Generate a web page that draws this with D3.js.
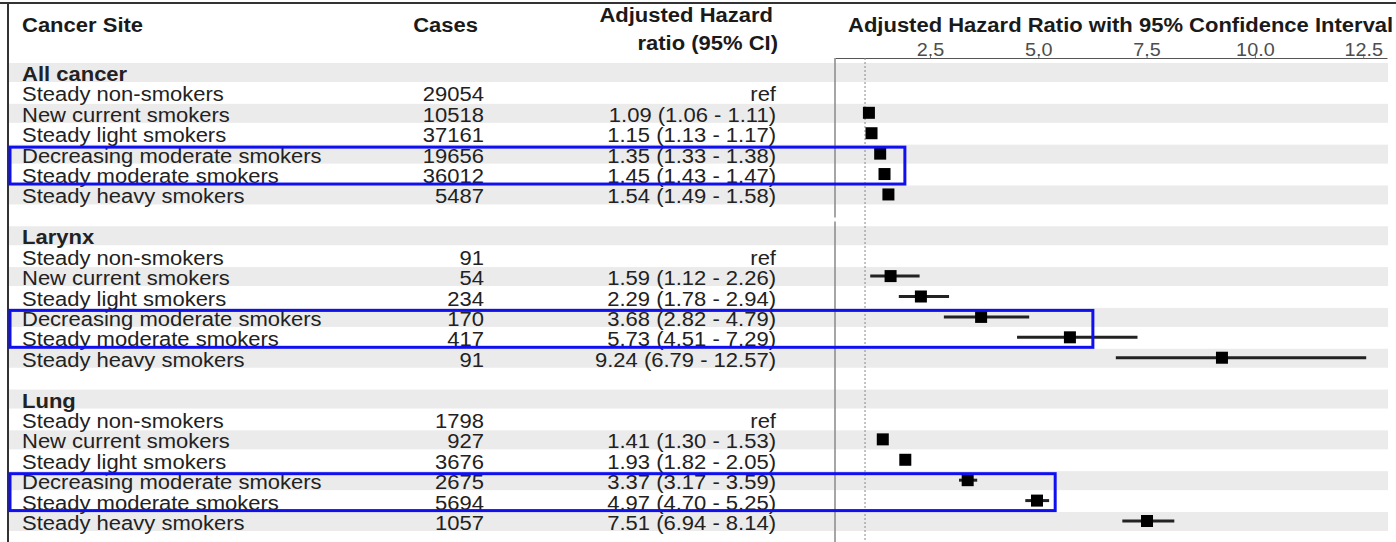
<!DOCTYPE html>
<html>
<head>
<meta charset="utf-8">
<script src="https://cdn.jsdelivr.net/npm/d3@7"></script>
<style>
  body { margin: 0; background: #fff; }
  svg { display: block; font-family: "Liberation Sans", Arial, sans-serif; }
</style>
</head>
<body>
<svg id="chart"></svg>
<script>
// Data
const groups = ["All cancer", "Larynx", "Lung"];
const categories = ["Steady non-smokers", "New current smokers", "Steady light smokers",
  "Decreasing moderate smokers", "Steady moderate smokers", "Steady heavy smokers"];

const allCancerCases = [29054, 10518, 37161, 19656, 36012, 5487];
const allCancerHR = [null, 1.09, 1.15, 1.35, 1.45, 1.54];
const allCancerLo = [null, 1.06, 1.13, 1.33, 1.43, 1.49];
const allCancerHi = [null, 1.11, 1.17, 1.38, 1.47, 1.58];

const larynxCases = [91, 54, 234, 170, 417, 91];
const larynxHR = [null, 1.59, 2.29, 3.68, 5.73, 9.24];
const larynxLo = [null, 1.12, 1.78, 2.82, 4.51, 6.79];
const larynxHi = [null, 2.26, 2.94, 4.79, 7.29, 12.57];

const lungCases = [1798, 927, 3676, 2675, 5694, 1057];
const lungHR = [null, 1.41, 1.93, 3.37, 4.97, 7.51];
const lungLo = [null, 1.30, 1.82, 3.17, 4.70, 6.94];
const lungHi = [null, 1.53, 2.05, 3.59, 5.25, 8.14];

const tickValues = [2.5, 5.0, 7.5, 10.0, 12.5];

// blue highlight boxes (rows 4-5 of each group, right edge in HR units)
const highlightRows = [3, 4];
const highlightXMax = [1.92, 6.26, 5.39];

const groupData = [
  {cases: allCancerCases, hr: allCancerHR, lo: allCancerLo, hi: allCancerHi},
  {cases: larynxCases, hr: larynxHR, lo: larynxLo, hi: larynxHi},
  {cases: lungCases, hr: lungHR, lo: lungLo, hi: lungHi}
];

class ForestPlot {
  constructor(_config) {
    this.config = {
      parentElement: _config.parentElement,
      containerWidth: _config.containerWidth || 1396,
      containerHeight: _config.containerHeight || 542,
      stretch: 1.1
    };
    this.initVis();
  }

  initVis() {
    let vis = this;

    // one table line per row index, 8 lines per group (header + 6 + blank)
    vis.rows = [];
    groups.forEach((g, gi) => {
      vis.rows.push({type: 'group', label: g, idx: gi * 8});
      categories.forEach((c, ci) => {
        const gd = groupData[gi];
        vis.rows.push({
          type: 'row', label: c, idx: gi * 8 + 1 + ci, group: gi, cat: ci,
          cases: gd.cases[ci], hr: gd.hr[ci], lo: gd.lo[ci], hi: gd.hi[ci]
        });
      });
    });

    vis.yScale = d3.scaleLinear().domain([0, 22]).range([81, 530]);
    vis.xScale = d3.scaleLinear().domain([0.307, 13.05]).range([835, 1387]);

    vis.svg = d3.select(vis.config.parentElement)
      .attr('width', vis.config.containerWidth)
      .attr('height', vis.config.containerHeight);

    vis.renderVis();
  }

  renderVis() {
    let vis = this;
    const y = vis.yScale, x = vis.xScale;
    const fmt = d3.format('.2f');

    // zebra stripes
    vis.svg.append('g').selectAll('rect')
      .data(d3.range(0, 23, 2))
      .join('rect')
      .attr('x', 9).attr('width', 1379)
      .attr('y', d => y(d) - 18).attr('height', 19)
      .attr('fill', '#ebebeb');

    // outer frame (top + left)
    vis.svg.append('line').attr('x1', 0).attr('x2', 1396).attr('y1', 3).attr('y2', 3)
      .attr('stroke', '#333').attr('stroke-width', 2);
    vis.svg.append('line').attr('x1', 8).attr('x2', 8).attr('y1', 3).attr('y2', 542)
      .attr('stroke', '#333').attr('stroke-width', 2);

    // column headers
    const hdr = vis.svg.append('g').attr('font-weight', 'bold').attr('font-size', 20).attr('fill', '#1a1a1a');
    hdr.append('text').attr('x', 22).attr('y', 32).text('Cancer Site');
    hdr.append('text').attr('x', 478).attr('y', 32).attr('text-anchor', 'end').text('Cases');
    hdr.append('text').attr('x', 773).attr('y', 22).attr('text-anchor', 'end').text('Adjusted Hazard');
    hdr.append('text').attr('x', 778).attr('y', 50).attr('text-anchor', 'end').text('ratio (95% CI)');
    hdr.append('text').attr('x', 848).attr('y', 32).text('Adjusted Hazard Ratio with 95% Confidence Interval');

    // table text
    const tbl = vis.svg.append('g').attr('font-size', 20).attr('fill', '#222');
    tbl.selectAll('.lbl')
      .data(vis.rows)
      .join('text')
      .attr('class', 'lbl')
      .attr('x', 22)
      .attr('y', d => y(d.idx))
      .attr('font-weight', d => d.type === 'group' ? 'bold' : 'normal')
      .text(d => d.label);

    const dataRows = vis.rows.filter(d => d.type === 'row');
    tbl.selectAll('.cases')
      .data(dataRows)
      .join('text')
      .attr('class', 'cases')
      .attr('x', 484).attr('y', d => y(d.idx))
      .attr('text-anchor', 'end')
      .text(d => d.cases);
    tbl.selectAll('.hrtxt')
      .data(dataRows)
      .join('text')
      .attr('class', 'hrtxt')
      .attr('x', 776).attr('y', d => y(d.idx))
      .attr('text-anchor', 'end')
      .text(d => d.hr == null ? 'ref' : `${fmt(d.hr)} (${fmt(d.lo)} - ${fmt(d.hi)})`);

    // panel axis
    const axis = d3.axisTop(x)
      .tickValues(tickValues)
      .tickFormat(d3.format('.1f'))
      .tickSize(4)
      .tickSizeOuter(0)
      .tickPadding(-2);
    const axisG = vis.svg.append('g').attr('transform', 'translate(0,58)').call(axis);
    axisG.select('.domain').attr('stroke', '#555');
    axisG.selectAll('.tick line').attr('stroke', '#777');
    axisG.selectAll('.tick text')
      .attr('font-size', 18)
      .attr('font-family', '"Liberation Sans", Arial, sans-serif')
      .attr('fill', '#4d4d4d');

    // panel left line (with small break as in source)
    const gapTop = y(6) + 14, gapBot = y(6) + 18;
    [[58, gapTop], [gapBot, 542]].forEach(s => {
      vis.svg.append('line').attr('x1', 835).attr('x2', 835).attr('y1', s[0]).attr('y2', s[1])
        .attr('stroke', '#888').attr('stroke-width', 1.5);
    });

    // reference line at HR = 1
    vis.svg.append('line')
      .attr('x1', x(1)).attr('x2', x(1)).attr('y1', 58).attr('y2', 542)
      .attr('stroke', '#888').attr('stroke-width', 1).attr('stroke-dasharray', '2,2');

    // CIs and points
    const est = dataRows.filter(d => d.hr != null);
    vis.svg.append('g').selectAll('line')
      .data(est)
      .join('line')
      .attr('x1', d => x(d.lo)).attr('x2', d => x(d.hi))
      .attr('y1', d => y(d.idx) - 9).attr('y2', d => y(d.idx) - 9)
      .attr('stroke', '#222').attr('stroke-width', 3);
    vis.svg.append('g').selectAll('rect')
      .data(est)
      .join('rect')
      .attr('x', d => x(d.hr) - 6).attr('y', d => y(d.idx) - 15)
      .attr('width', 12).attr('height', 12)
      .attr('fill', '#000');

    // blue highlight boxes
    vis.svg.append('g').selectAll('rect')
      .data(highlightXMax)
      .join('rect')
      .attr('x', 10)
      .attr('y', (d, i) => y(i * 8 + 1 + highlightRows[0]) - 15.5)
      .attr('width', d => x(d) - 10)
      .attr('height', (d, i) => y(i * 8 + 1 + highlightRows[1]) + 1 - (y(i * 8 + 1 + highlightRows[0]) - 15.5))
      .attr('fill', 'none')
      .attr('stroke', '#0f0ff0')
      .attr('stroke-width', 3);

    // source image is horizontally stretched; widen glyphs to match
    vis.svg.selectAll('text').each(function() {
      const w = this.getComputedTextLength();
      d3.select(this).attr('textLength', w * vis.config.stretch).attr('lengthAdjust', 'spacingAndGlyphs');
    });
  }
}

new ForestPlot({parentElement: '#chart'});
</script>
</body>
</html>
